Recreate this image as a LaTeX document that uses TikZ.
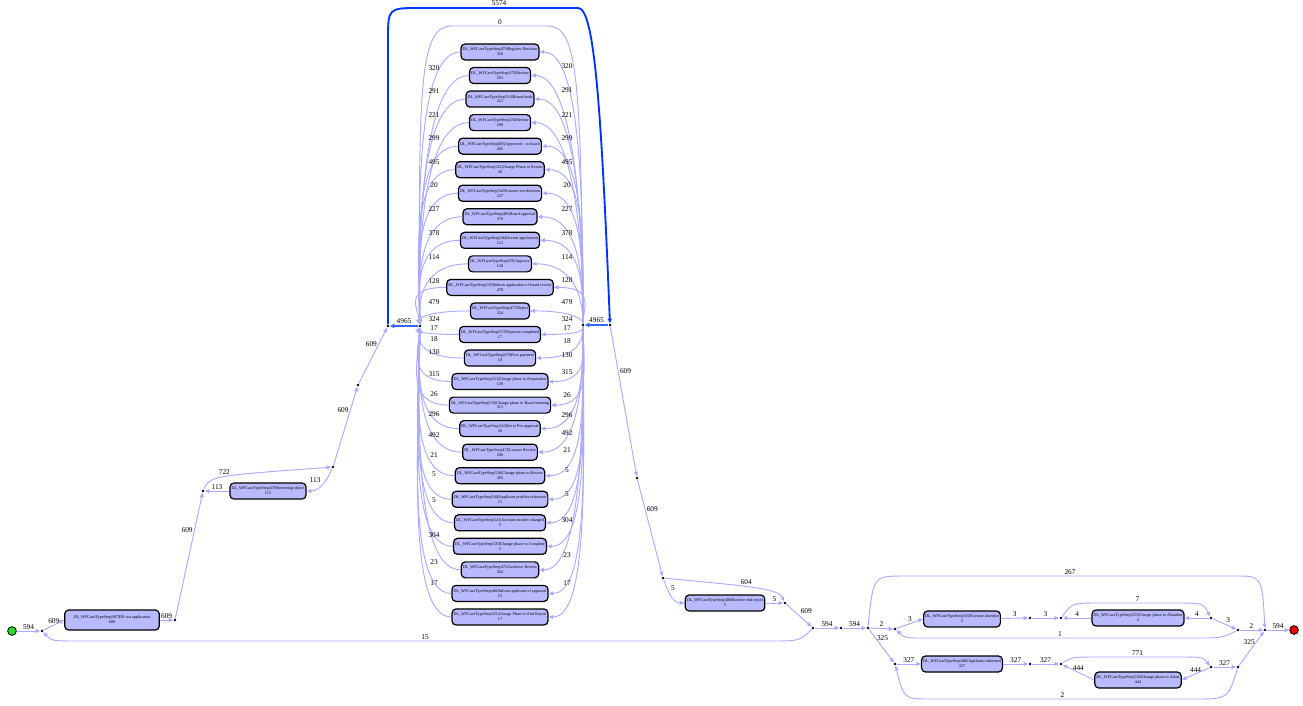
\documentclass[tikz,border=0pt]{standalone}
\usepackage{fontspec}
\setmainfont{Liberation Serif}
\usetikzlibrary{arrows.meta,positioning,calc}

\definecolor{flowl}{RGB}{170,170,255}
\definecolor{flowb}{RGB}{0,51,255}
\definecolor{flowm}{RGB}{51,102,255}
\definecolor{actfill}{RGB}{185,185,255}
\definecolor{startc}{RGB}{40,220,40}
\definecolor{stopc}{RGB}{235,0,0}

\begin{document}
\begin{tikzpicture}[x=0.75pt, y=-0.75pt,
  act/.style={rectangle, draw, rounded corners=3pt, line width=0.9pt, fill=actfill, align=center, inner sep=1.2pt, minimum height=12pt, font=\fontsize{3.1}{3.7}\selectfont},
  dotn/.style={circle, fill=black, inner sep=0pt, minimum size=2.2pt},
  startn/.style={circle, draw, line width=0.6pt, fill=startc, inner sep=0pt, minimum size=6.5pt},
  stopn/.style={circle, draw, line width=0.6pt, fill=stopc, inner sep=0pt, minimum size=6.5pt},
  arrow/.style={-{Triangle[length=3.5pt,width=3pt]}, draw=flowl, line width=0.7pt},
  arrowb/.style={-{Triangle[length=3.5pt,width=3pt]}, draw=flowb, line width=1.4pt},
  arrowm/.style={-{Triangle[length=3.5pt,width=3pt]}, draw=flowm, line width=1.4pt},
  lbl/.style={font=\fontsize{5.5}{6}\selectfont, inner sep=1pt}]
\useasboundingbox (0,0) rectangle (1303,706);

% main sequence
\node[startn] (start) at (12,631) {};
\node[dotn] (loopA) at (42,631) {};
\node[act, minimum width=71pt, minimum height=15pt] (fill) at (112,620) {DL\_WFCaseTypeStep|497|Fill out application\\609};
\node[dotn] (d1) at (175,620) {};
\node[dotn] (d2) at (203,491) {};
\node[act] (scr) at (268,491) {DL\_WFCaseTypeStep|478|Screening object\\113};
\node[dotn] (d3) at (333,467) {};
\node[dotn] (d4) at (358,385) {};
\node[dotn] (loopL) at (388,326) {};
\node[dotn] (xorJ) at (420,326) {};
\node[dotn] (xorS) at (583,325) {};
\node[dotn] (loopR) at (610,325) {};
\node[dotn] (d5) at (637,478) {};
\node[dotn] (d6) at (663,578) {};
\node[act] (rec) at (725,603) {DL\_WFCaseTypeStep|488|Receive end report\\5};
\node[dotn] (d7) at (785,603) {};
\node[dotn] (loopB) at (813,628) {};
\node[dotn] (d8) at (841,628) {};
\node[dotn] (xs) at (868,628) {};

% abandon branch
\node[dotn] (la) at (895,629) {};
\node[act] (abn) at (962,619) {DL\_WFCaseTypeStep|550|Execute abandon\\3};
\node[dotn] (e1) at (1030,618) {};
\node[dotn] (lb) at (1061,618) {};
\node[act] (cpa) at (1138,618) {DL\_WFCaseTypeStep|553|Change phase to Abandon\\4};
\node[dotn] (lbx) at (1211,618) {};
\node[dotn] (le) at (1238,630) {};

% abort branch
\node[dotn] (lc) at (895,664) {};
\node[act] (inf) at (962,664) {DL\_WFCaseTypeStep|486|Applicant informed\\327};
\node[dotn] (e2) at (1030,664) {};
\node[dotn] (ld) at (1061,664) {};
\node[act] (abt) at (1138,680) {DL\_WFCaseTypeStep|538|Change phase to Abort\\444};
\node[dotn] (ldx) at (1211,667) {};
\node[dotn] (lf) at (1238,667) {};

\node[dotn] (ej) at (1265,630) {};
\node[stopn] (stop) at (1294,630) {};

% redo activities
\foreach \i/\sid/\stxt/\cnt/\ly/\ry in {
  1/479/Register Decision/320/68/66,
  2/473/Review/291/91/90,
  3/510/Round ends/221/115/115,
  4/474/Review/299/138/138,
  5/495/Approved -- to board/495/162/162,
  6/522/Change Phase to Payout/20/185/185,
  7/545/Execute pre-decision/227/209/209,
  8/485/Board approval/378/233/233,
  9/544/Screen application/114/257/257,
  10/476/Approve/128/281/280,
  11/539/Inform application of board review/479/302/302,
  12/477/Reject/324/319/319,
  13/557/Payment completed/17/328/328,
  14/479/First payment/18/339/341,
  15/551/Change phase to Preparation/130/352/355,
  16/519/Change phase to Board meeting/315/374/372,
  17/542/Set to Pre-approval/26/394/395,
  18/471/Lawyer Review/296/414/415,
  19/518/Change phase to Review/492/435/433,
  20/540/Applicant justifies relevance/21/455/450,
  21/541/Account number changed/5/474/470,
  22/520/Change phase to Complete/5/500/494,
  23/472/Architect Review/304/535/520,
  24/482/Inform applicant of approval/23/562/555,
  25/521/Change Phase to End Report/17/583/583}{
  \pgfmathsetmacro\yy{52+(\i-1)*23.54}
  \pgfmathsetmacro\cy{326+0.45*(\yy-326)}
  \node[act] (r\i) at (500,\yy) {DL\_WFCaseTypeStep|\sid|\stxt\\\cnt};
  \draw[arrow] (r\i.west) .. controls ($(r\i.west)+(-44,0)$) and (418,\cy) .. (xorJ);
  \draw[arrow] (xorS) .. controls (583,\cy) and ($(r\i.east)+(42,0)$) .. (r\i.east);
  \node[lbl] at (434,\ly) {\cnt};
  \node[lbl] at (567,\ry) {\cnt};
}
\draw[arrow] (xorS) .. controls (581,80) and (578,26) .. (548,26) -- node[lbl, above] {0} (452,26) .. controls (420,26) and (418,80) .. (xorJ);

% loop edges
\draw[arrowb] (loopL) -- (388,40) .. controls (388,8) .. (420,8) -- node[lbl, above] {5574} (578,8) .. controls (594,8) and (601,100) .. (loopR);
\draw[arrowm] (loopR) -- (xorS) node[lbl, midway, above] {4965};
\draw[arrowm] (xorJ) -- (loopL) node[lbl, midway, above] {4965};

% left part
\draw[arrow] (start) -- (loopA) node[lbl, midway, above] {594};
\draw[arrow] (loopA) -- (fill.west) node[lbl, midway, above] {609};
\draw[arrow] (fill) -- (d1) node[lbl, midway, above] {609};
\draw[arrow] (d1) -- (d2) node[lbl, pos=0.7, left] {609};
\draw[arrow] (d2) .. controls (210,476) .. (d3) node[lbl, pos=0.5, above] {722};
\draw[arrow] (d3) to[out=-115, in=0] node[lbl, above left] {113} (scr.east);
\draw[arrow] (scr) -- (d2) node[lbl, midway, above] {113};
\draw[arrow] (d3) -- (d4) node[lbl, pos=0.7, left] {609};
\draw[arrow] (d4) -- (loopL) node[lbl, pos=0.7, left] {609};

% right part
\draw[arrow] (loopR) -- (d5) node[lbl, pos=0.3, right] {609};
\draw[arrow] (d5) -- (d6) node[lbl, pos=0.3, right] {609};
\draw[arrow] (d6) to[out=-70, in=180] node[lbl, pos=0.4, above right] {5} (rec.west);
\draw[arrow] (d6) .. controls (745,586) and (778,588) .. (d7) node[lbl, pos=0.45, above] {604};
\draw[arrow] (rec) -- (d7) node[lbl, midway, above] {5};
\draw[arrow] (d7) -- (loopB) node[lbl, midway, above right] {609};
\draw[arrow] (loopB) .. controls (800,641) .. (770,641) -- node[lbl, above] {15} (80,641) .. controls (52,641) .. (loopA);
\draw[arrow] (loopB) -- (d8) node[lbl, midway, above] {594};
\draw[arrow] (d8) -- (xs) node[lbl, midway, above] {594};
\draw[arrow] (xs) .. controls (873,576) .. (905,576) -- node[lbl, above] {267} (1235,576) .. controls (1262,576) .. (ej);

\draw[arrow] (xs) -- (la) node[lbl, midway, above] {2};
\draw[arrow] (la) -- (abn.west) node[lbl, midway, above] {3};
\draw[arrow] (abn) -- (e1) node[lbl, midway, above] {3};
\draw[arrow] (e1) -- (lb) node[lbl, midway, above] {3};
\draw[arrow] (lb) .. controls (1072,603) .. (1100,603) -- node[lbl, above] {7} (1175,603) .. controls (1203,603) .. (lbx);
\draw[arrow] (lbx) -- (cpa) node[lbl, midway, above] {4};
\draw[arrow] (cpa) -- (lb) node[lbl, midway, above] {4};
\draw[arrow] (lbx) -- (le) node[lbl, midway, above right] {3};
\draw[arrow] (le) -- (ej) node[lbl, midway, above] {2};
\draw[arrow] (le) .. controls (1222,638) .. (1195,638) -- node[lbl, above] {1} (925,638) .. controls (905,638) .. (la);

\draw[arrow] (xs) -- (lc) node[lbl, pos=0.25, right] {325};
\draw[arrow] (lc) -- (inf) node[lbl, midway, above] {327};
\draw[arrow] (inf) -- (e2) node[lbl, midway, above] {327};
\draw[arrow] (e2) -- (ld) node[lbl, midway, above] {327};
\draw[arrow] (ld) .. controls (1072,657) .. (1100,657) -- node[lbl, above] {771} (1175,657) .. controls (1203,657) .. (ldx);
\draw[arrow] (ldx) -- (abt.east) node[lbl, midway, above] {444};
\draw[arrow] (abt.west) -- (ld) node[lbl, midway, above] {444};
\draw[arrow] (ldx) -- (lf) node[lbl, midway, above] {327};
\draw[arrow] (lf) -- (ej) node[lbl, pos=0.7, left] {325};
\draw[arrow] (lf) .. controls (1228,699) .. (1195,699) -- node[lbl, above] {2} (930,699) .. controls (904,699) .. (lc);
\draw[arrow] (ej) -- (stop) node[lbl, midway, above] {594};

\end{tikzpicture}
\end{document}
